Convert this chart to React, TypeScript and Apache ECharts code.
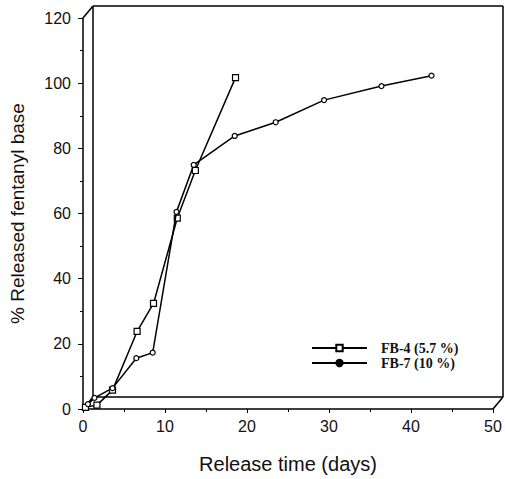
import React, { useEffect, useRef } from "react";
import * as echarts from "echarts";

const fb4Days = [0.3, 1.7, 3.6, 6.6, 8.6, 11.5, 13.7, 18.6];
const fb4Values = [0.5, 1.2, 5.8, 23.8, 32.4, 58.6, 73.2, 101.7];
const fb7Days = [0.6, 1.4, 3.6, 6.5, 8.5, 11.4, 13.5, 18.5, 23.5, 29.4, 36.4, 42.5];
const fb7Values = [1.5, 3.4, 6.4, 15.6, 17.3, 60.5, 74.9, 83.8, 88.0, 94.8, 99.1, 102.3];
const xTicks = [0, 50, 10];
const yTicks = [0, 120, 20];
const seriesNames = ["FB-4 (5.7 %)", "FB-7 (10 %)"];

export default function App() {
  const ref = useRef<HTMLDivElement>(null);
  useEffect(() => {
    const chart = echarts.init(ref.current!, null, { renderer: "svg" });
    const sans = "'Liberation Sans', Arial, sans-serif";
    const serif = "'Liberation Serif', 'Times New Roman', serif";
    chart.setOption({
      animation: false,
      backgroundColor: "#fff",
      grid: { left: 83, right: 12, top: 18, bottom: 69, containLabel: false },
      xAxis: {
        type: "value",
        min: xTicks[0],
        max: xTicks[1],
        interval: xTicks[2],
        name: "Release time (days)",
        nameLocation: "middle",
        nameGap: 45,
        nameTextStyle: { fontFamily: sans, fontSize: 20, color: "#111" },
        axisLine: { lineStyle: { color: "#000", width: 1.5 } },
        axisTick: { length: 4, lineStyle: { color: "#000" } },
        minorTick: { show: true, splitNumber: 2, length: 3, lineStyle: { color: "#000" } },
        splitLine: { show: false },
        axisLabel: { fontFamily: sans, fontSize: 16, color: "#111", margin: 9 },
      },
      yAxis: {
        type: "value",
        min: yTicks[0],
        max: yTicks[1],
        interval: yTicks[2],
        name: "% Released fentanyl base",
        nameLocation: "middle",
        nameGap: 56,
        nameTextStyle: { fontFamily: sans, fontSize: 19, color: "#111" },
        axisLine: { show: true, lineStyle: { color: "#000", width: 1.5 } },
        axisTick: { show: true, length: 5, lineStyle: { color: "#000" } },
        minorTick: { show: true, splitNumber: 2, length: 3, lineStyle: { color: "#000" } },
        splitLine: { show: false },
        axisLabel: { fontFamily: sans, fontSize: 16, color: "#111", margin: 12 },
      },
      legend: {
        orient: "vertical",
        left: 306,
        top: 336,
        itemWidth: 55,
        itemHeight: 8,
        itemGap: 1,
        textStyle: {
          fontFamily: serif,
          fontWeight: "bold",
          fontSize: 14,
          lineHeight: 14,
          color: "#111",
          padding: [0, 0, 0, 9],
        },
        data: [
          { name: seriesNames[0] },
          { name: seriesNames[1], itemStyle: { color: "#000", borderColor: "#000" } },
        ],
      },
      series: [
        {
          name: seriesNames[0],
          type: "line",
          data: fb4Days.map((d, i) => [d, fb4Values[i]]),
          symbol: "rect",
          symbolSize: 6,
          itemStyle: { color: "#fff", borderColor: "#000", borderWidth: 1.2 },
          lineStyle: { color: "#000", width: 1.5 },
          z: 3,
        },
        {
          name: seriesNames[1],
          type: "line",
          data: fb7Days.map((d, i) => [d, fb7Values[i]]),
          symbol: "circle",
          symbolSize: 5,
          itemStyle: { color: "#fff", borderColor: "#000", borderWidth: 1.2 },
          lineStyle: { color: "#000", width: 1.5 },
          z: 4,
        },
      ],
    });
    const p = (x: number, y: number) => chart.convertToPixel({ gridIndex: 0 }, [x, y]) as number[];
    const dx = 10;
    const dy = -12;
    const a = p(xTicks[0], yTicks[0]);
    const b = p(xTicks[1], yTicks[0]);
    const c = p(xTicks[0], yTicks[1]);
    const ls = { stroke: "#000", lineWidth: 1.5 };
    const ln = (x1: number, y1: number, x2: number, y2: number) => ({
      type: "line",
      shape: { x1, y1, x2, y2 },
      style: ls,
      silent: true,
      z: 1,
    });
    chart.setOption({
      graphic: [
        ln(a[0] + dx, a[1] + dy, b[0] + dx, b[1] + dy),
        ln(a[0] + dx, a[1] + dy, c[0] + dx, c[1] + dy),
        ln(c[0] + dx, c[1] + dy, b[0] + dx, c[1] + dy),
        ln(b[0] + dx, c[1] + dy, b[0] + dx, b[1] + dy),
        ln(c[0], c[1], c[0] + dx, c[1] + dy),
        ln(b[0], b[1], b[0] + dx, b[1] + dy),
        ln(a[0], a[1], a[0] + dx, a[1] + dy),
      ],
    });
    return () => chart.dispose();
  }, []);
  return <div ref={ref} style={{ width: 505, height: 479, position: "absolute", left: 0, top: 0 }} />;
}
